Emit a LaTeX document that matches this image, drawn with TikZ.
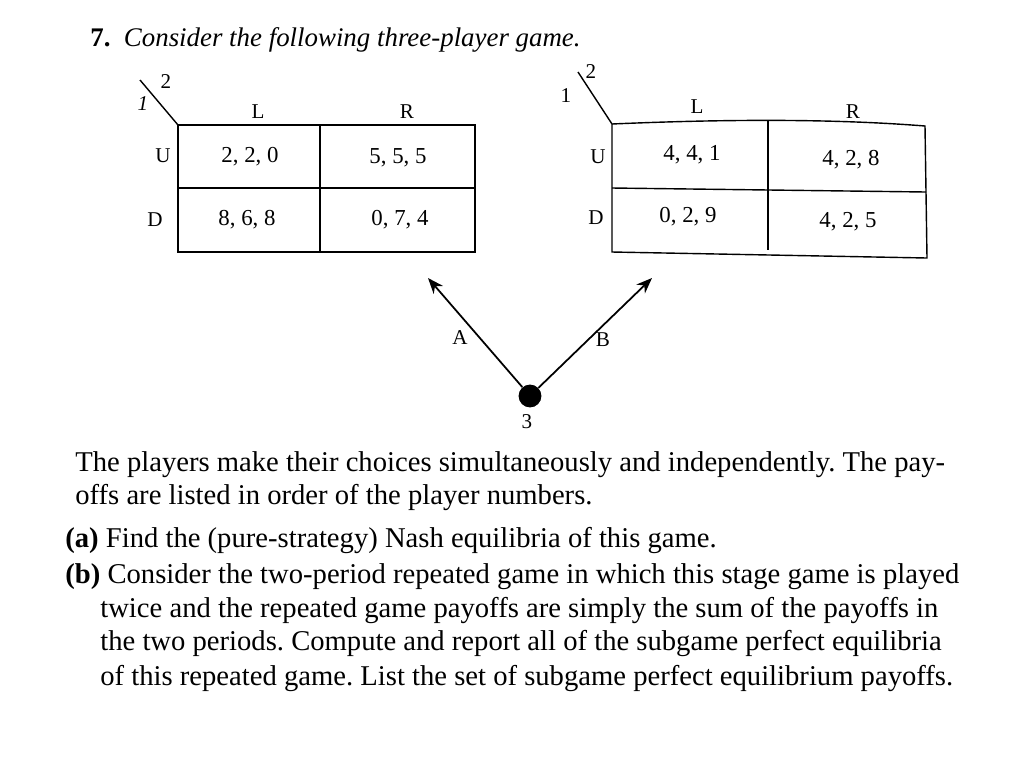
\documentclass[tikz,border=0pt]{standalone}
\usepackage{fontspec}
\setmainfont{Liberation Serif}
\usetikzlibrary{arrows.meta}
\begin{document}
\frenchspacing
\begin{tikzpicture}[x=0.02cm,y=-0.02cm,
  cell/.style={font=\fontsize{13pt}{15pt}\selectfont},
  lab/.style={font=\fontsize{12pt}{14pt}\selectfont},
  body/.style={anchor=west,inner sep=0,font=\fontsize{16.3pt}{19pt}\selectfont},
  tab/.style={line width=0.8pt},
  arr/.style={line width=1pt,-{Stealth[length=9pt,width=7pt]}}]
\useasboundingbox[fill=white] (0,0) rectangle (1024,772);
\node[anchor=west,inner sep=0,font=\fontsize{15.3pt}{18pt}\selectfont\itshape] (title) at (90,40) {\textbf{\upshape 7.}\ \ Consider the following three-player game.};
% left table
\draw[tab] (178,125) rectangle (475,252);
\draw[tab] (178,188) -- (475,188);
\draw[tab] (320,125) -- (320,252);
\coordinate (lc) at (178,125);
\coordinate (ld) at (140,80);
\draw[tab] (ld) -- (lc);
\node[lab] (l2) at (166,82) {2};
\node[lab,font=\itshape\fontsize{12pt}{14pt}\selectfont] (l1) at (143,104) {1};
\node[lab] (lL) at (258,112) {L};
\node[lab] (lR) at (407,112) {R};
\node[lab] (lU) at (163,156) {U};
\node[lab] (lD) at (155,220) {D};
\node[cell] (a1) at (250,157) {2, 2, 0};
\node[cell] (a2) at (398,158) {5, 5, 5};
\node[cell] (a3) at (247,220) {8, 6, 8};
\node[cell] (a4) at (400,220) {0, 7, 4};
% right table
\draw[tab] (612,124) .. controls (750,118) and (850,120) .. (925,126) -- (927,258) -- (612,252) -- cycle;
\draw[tab] (612,188) -- (926,192);
\draw[tab] (768,121) -- (768,250);
\coordinate (rc) at (612,124);
\coordinate (rd) at (578,72);
\draw[tab] (rd) -- (rc);
\node[lab] (r2) at (591,72) {2};
\node[lab] (r1) at (566,96) {1};
\node[lab] (rL) at (697,107) {L};
\node[lab] (rR) at (853,112) {R};
\node[lab] (rU) at (598,157) {U};
\node[lab] (rD) at (596,218) {D};
\node[cell] (b1) at (692,155) {4, 4, 1};
\node[cell] (b2) at (851,160) {4, 2, 8};
\node[cell] (b3) at (688,217) {0, 2, 9};
\node[cell] (b4) at (848,222) {4, 2, 5};
% node 3
\node[circle,fill=black,inner sep=0,minimum size=13pt] (p3) at (530,396) {};
\coordinate (ta) at (428,278);
\coordinate (tb) at (652,278);
\draw[arr] (p3) -- (ta);
\draw[arr] (p3) -- (tb);
\node[lab] (A) at (460,338) {A};
\node[lab] (B) at (603,340) {B};
\node[lab] (n3) at (527,422) {3};
% body
\node[body] (t1) at (75,465) {The players make their choices simultaneously and independently. The pay-};
\node[body] (t2) at (75,497) {offs are listed in order of the player numbers.};
\node[body] (t3) at (65,540) {\textbf{(a)}\ Find the (pure-strategy) Nash equilibria of this game.};
\node[body] (t4) at (65,577) {\textbf{(b)}\ Consider the two-period repeated game in which this stage game is played};
\node[body] (t5) at (100,610) {twice and the repeated game payoffs are simply the sum of the payoffs in};
\node[body] (t6) at (100,643) {the two periods. Compute and report all of the subgame perfect equilibria};
\node[body] (t7) at (100,678) {of this repeated game. List the set of subgame perfect equilibrium payoffs.};
\end{tikzpicture}
\end{document}
